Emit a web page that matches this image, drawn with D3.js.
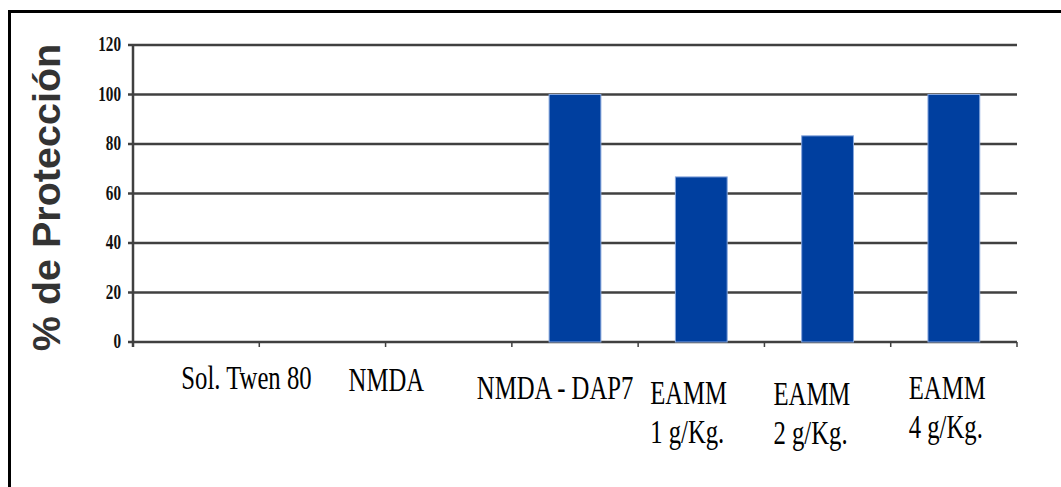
<!DOCTYPE html>
<html lang="es">
<head>
    <meta charset="UTF-8">
    <title>% de Protección</title>
    <script src="https://d3js.org/d3.v7.min.js"></script>
    <style>
        body { margin: 0; background: white; }
        svg { display: block; }
    </style>
</head>
<body>
    <div id="chart"></div>

    <script>
        // Data
        const categories = ["", "Sol. Twen 80", "NMDA", "NMDA - DAP7", "EAMM 1 g/Kg.", "EAMM 2 g/Kg.", "EAMM 4 g/Kg."];
        const protection = [0, 0, 0, 100, 66.7, 83.3, 100];
        const labelLines = [[], ["Sol. Twen 80"], ["NMDA"], ["NMDA - DAP7"], ["EAMM", "1 g/Kg."], ["EAMM", "2 g/Kg."], ["EAMM", "4 g/Kg."]];
        const yTicks = [0, 20, 40, 60, 80, 100, 120];
        const yTitle = "% de Protección";

        // Layout (labels in the source sit off their bands)
        const width = 1061, height = 487;
        const plot = { left: 133, right: 1017, top: 45, bottom: 342 };
        const labelDx = [0, -78, -37, -35, 12, 9, 18];
        const labelBase = [0, 389, 391, 399, 404, 405, 399];
        const lineGap = 39;

        const svg = d3.select("#chart").append("svg")
            .attr("width", width)
            .attr("height", height);

        // outer frame
        svg.append("rect")
            .attr("x", 9.5).attr("y", 11.5)
            .attr("width", 1070).attr("height", 500)
            .attr("fill", "none")
            .attr("stroke", "#000")
            .attr("stroke-width", 3);

        const x = d3.scaleBand()
            .domain(categories.map((d, i) => i))
            .range([plot.left, plot.right]);

        const y = d3.scaleLinear()
            .domain([0, 120])
            .range([plot.bottom, plot.top]);

        // gridlines + y ticks
        svg.selectAll(".grid")
            .data(yTicks)
            .enter().append("line")
            .attr("x1", plot.left - 5)
            .attr("x2", plot.right)
            .attr("y1", d => y(d))
            .attr("y2", d => y(d))
            .attr("stroke", "#404040")
            .attr("stroke-width", 2.5);

        svg.selectAll(".ytick")
            .data(yTicks)
            .enter().append("text")
            .attr("transform", d => `translate(121,${y(d) + 6}) scale(0.95,1.25)`)
            .attr("text-anchor", "end")
            .attr("font-family", "Liberation Serif")
            .attr("font-weight", "bold")
            .attr("font-size", 16)
            .attr("fill", "#111")
            .text(d => d);

        // y axis line
        svg.append("line")
            .attr("x1", plot.left).attr("x2", plot.left)
            .attr("y1", plot.top).attr("y2", plot.bottom + 5)
            .attr("stroke", "#404040")
            .attr("stroke-width", 2.5);

        // x ticks at band edges
        const edges = categories.map((d, i) => x(i)).concat([plot.right]);
        svg.selectAll(".xtick")
            .data(edges.slice(1))
            .enter().append("line")
            .attr("x1", d => d).attr("x2", d => d)
            .attr("y1", plot.bottom).attr("y2", plot.bottom + 5)
            .attr("stroke", "#404040")
            .attr("stroke-width", 1.5);

        // bars
        svg.selectAll(".bar")
            .data(protection.map((v, i) => ({ i, v })).filter(d => d.v > 0))
            .enter().append("rect")
            .attr("x", d => x(d.i) + x.bandwidth() * 0.295)
            .attr("y", d => y(d.v))
            .attr("width", x.bandwidth() * 0.41)
            .attr("height", d => y(0) - y(d.v))
            .attr("fill", "#003f9f")
            .attr("stroke", "#86a6dc")
            .attr("stroke-width", 1);

        // category labels
        labelLines.forEach((lines, i) => {
            lines.forEach((t, k) => {
                svg.append("text")
                    .attr("transform", `translate(${x(i) + labelDx[i]},${labelBase[i] + k * lineGap}) scale(1.03,1.38)`)
                    .attr("font-family", "Liberation Serif")
                    .attr("font-size", 24)
                    .attr("fill", "#000")
                    .text(t);
            });
        });

        // y title
        svg.append("text")
            .attr("transform", `translate(60,${(43 + 352) / 2}) rotate(-90)`)
            .attr("text-anchor", "middle")
            .attr("font-family", "Liberation Sans, Arial, sans-serif")
            .attr("font-weight", "bold")
            .attr("font-size", 39.5)
            .attr("fill", "#333")
            .text(yTitle);
    </script>
</body>
</html>
